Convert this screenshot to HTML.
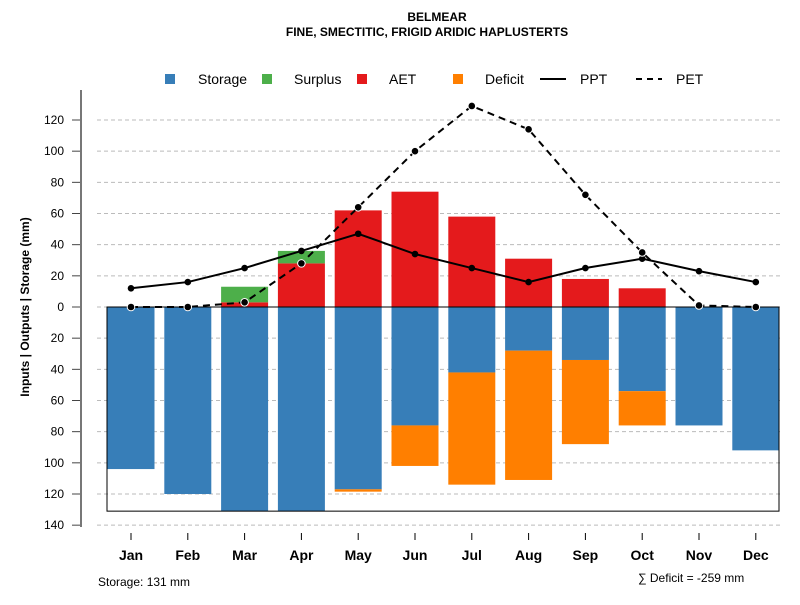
<!DOCTYPE html>
<html><head><meta charset="utf-8"><style>
body{margin:0;background:#fff;}
svg text{font-family:"Liberation Sans",Arial,sans-serif;}
</style></head><body>
<svg id="chart" width="800" height="600" xmlns="http://www.w3.org/2000/svg">
<text x="437" y="21" text-anchor="middle" font-size="12" font-weight="bold">BELMEAR</text>
<text x="427" y="36" text-anchor="middle" font-size="12" font-weight="bold">FINE, SMECTITIC, FRIGID ARIDIC HAPLUSTERTS</text>
<g id="legend" font-size="14">
<rect x="165" y="74" width="10" height="10" fill="#377eb8"/>
<text x="198" y="84">Storage</text>
<rect x="262" y="74" width="10" height="10" fill="#4daf4a"/>
<text x="294" y="84">Surplus</text>
<rect x="357" y="74" width="10" height="10" fill="#e41a1c"/>
<text x="389" y="84">AET</text>
<rect x="453" y="74" width="10" height="10" fill="#ff7f00"/>
<text x="485" y="84">Deficit</text>
<line x1="540" y1="79" x2="566" y2="79" stroke="#000" stroke-width="2"/>
<text x="580" y="84">PPT</text>
<line x1="636" y1="79" x2="662" y2="79" stroke="#000" stroke-width="2" stroke-dasharray="6,5"/>
<text x="676" y="84">PET</text>
</g>
<text transform="translate(29,307) rotate(-90)" text-anchor="middle" font-size="12" font-weight="bold">Inputs | Outputs | Storage    (mm)</text>
<text x="98" y="586" font-size="12">Storage: 131 mm</text>
<text x="638" y="582" font-size="12">∑ Deficit = -259 mm</text>
</svg>
<script>
const months=["Jan","Feb","Mar","Apr","May","Jun","Jul","Aug","Sep","Oct","Nov","Dec"];
const storage=[104,120,131,131,117,76,42,28,34,54,76,92];
const deficit=[0,0,0,0,1.5,26,72,83,54,22,0,0];
const aet=[0,0,3,28,62,74,58,31,18,12,0,0];
const surplus=[0,0,10,8,0,0,0,0,0,0,0,0];
const ppt=[12,16,25,36,47,34,25,16,25,31,23,16];
const pet=[0,0,3,28,64,100,129,114,72,35,1,0];
const yTicks=[120,100,80,60,40,20,0,20,40,60,80,100,120,140];
const yTickVals=[120,100,80,60,40,20,0,-20,-40,-60,-80,-100,-120,-140];
const maxStorage=131;

const svg=document.getElementById('chart');
const NS="http://www.w3.org/2000/svg";
const y=v=>307-v*1.5583;
const x=i=>131+i*56.8;
const bw=47;
function mk(t,a,p){const e=document.createElementNS(NS,t);for(const k in a)e.setAttribute(k,a[k]);(p||svg).appendChild(e);return e;}

const grid=mk('g',{});


yTickVals.forEach((v,i)=>{
  const l=mk('line',{x1:97,x2:780,y1:y(v),y2:y(v),stroke:'#bbb','stroke-dasharray':'4,3'},grid);
  
  
  const tk=mk('line',{x1:72,x2:80,y1:y(v),y2:y(v),stroke:'#444'});
  
  
  const t=mk('text',{x:64,y:y(v)+4,'text-anchor':'end','font-size':12});
  t.textContent=yTicks[i];
  
  
});
const ax=mk('line',{x1:81,x2:81,y1:90,y2:527,stroke:'#777','stroke-width':2});



months.forEach((m,i)=>{
  const cx=x(i),l=cx-bw/2;
  const s=mk('rect',{x:l,y:y(0),width:bw,height:y(-storage[i])-y(0),fill:'#377eb8'});
  
  
  if(deficit[i]>0){
    const d=mk('rect',{x:l,y:y(-storage[i]),width:bw,height:y(-storage[i]-deficit[i])-y(-storage[i]),fill:'#ff7f00'});
    
    
  }
  if(aet[i]>0){
    const a=mk('rect',{x:l,y:y(aet[i]),width:bw,height:y(0)-y(aet[i]),fill:'#e41a1c'});
    
    
  }
  if(surplus[i]>0){
    const su=mk('rect',{x:l,y:y(aet[i]+surplus[i]),width:bw,height:y(aet[i])-y(aet[i]+surplus[i]),fill:'#4daf4a'});
    
    
  }
  const tk=mk('line',{x1:cx,x2:cx,y1:533,y2:540,stroke:'#000'});
  
  
  const t=mk('text',{x:cx,y:560,'text-anchor':'middle','font-size':14,'font-weight':'bold'});
  t.textContent=m;
  
  
});
const box=mk('rect',{x:107,y:y(0),width:672,height:y(-maxStorage)-y(0),fill:'none',stroke:'#000'});



function series(arr,name,dash,ring){
  const pl=mk('polyline',{points:arr.map((v,i)=>x(i)+','+y(v)).join(' '),fill:'none',stroke:'#000','stroke-width':2,'stroke-dasharray':dash||'none'});
  
  
  arr.forEach((v,i)=>{
    const c=mk('circle',{cx:x(i),cy:y(v),r:ring?3.8:3.3,fill:'#000',stroke:ring?'#fff':'none','stroke-width':1});
    
    
  });
}
series(ppt,'ppt');
series(pet,'pet','7,5',true);
</script>
</body></html>
